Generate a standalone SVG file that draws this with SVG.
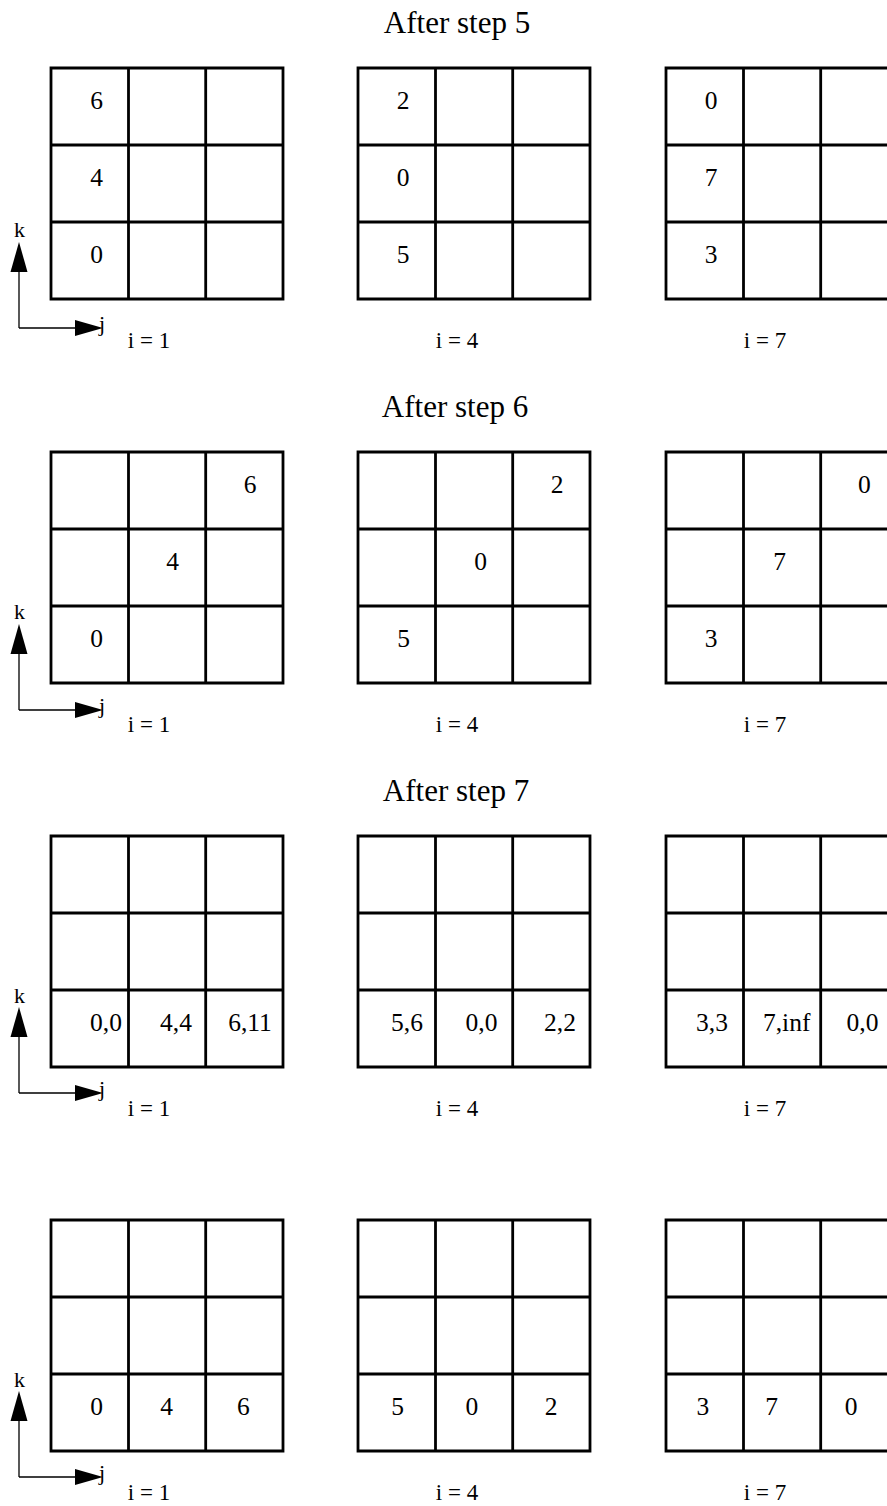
<svg xmlns="http://www.w3.org/2000/svg" xmlns:xlink="http://www.w3.org/1999/xlink" width="887" height="1506" viewBox="0 0 887 1506">
<style>
  text { font-family: "Liberation Serif", "Times New Roman", serif; fill: #000; }
  .title { font-size: 31px; text-anchor: middle; }
  .cell { font-size: 25.5px; text-anchor: middle; }
  .lbl { font-size: 23px; text-anchor: middle; }
  .axis { font-size: 22px; }
  .grid { fill: #fff; stroke: #000; stroke-width: 2.8; }
  .ax { fill: none; stroke: #000; stroke-width: 1.3; }
  .head { fill: #000; stroke: none; }
</style>
<defs>
  <path id="g3" d="M0,0 H232 V231 H0 Z M77.5,0 V231 M154.7,0 V231 M0,77 H232 M0,154 H232"/>
  <g id="axes">
    <path class="ax" d="M19,0 V-56 M19,0 H76"/>
    <polygon class="head" points="19,-86 10.5,-56 27.5,-56"/>
    <polygon class="head" points="75,-8 75,8 103,0"/>
  </g>
</defs>
<rect width="887" height="1506" fill="#fff"/>

<!-- Section 1 -->
<g id="section1">
  <text class="title" x="457" y="33">After step 5</text>
  <g id="s1-axes"><use xlink:href="#axes" href="#axes" x="0" y="328"/>
    <text class="axis" x="19.5" y="237" text-anchor="middle">k</text>
    <text class="axis" x="99" y="331">j</text></g>
  <g id="s1-i1"><use class="grid" xlink:href="#g3" href="#g3" x="51" y="68"/>
    <text class="cell" x="96.7" y="108.5">6</text><text class="cell" x="96.7" y="185.5">4</text><text class="cell" x="96.7" y="262.5">0</text>
    <text class="lbl" x="149" y="348">i = 1</text></g>
  <g id="s1-i4"><use class="grid" xlink:href="#g3" href="#g3" x="358" y="68"/>
    <text class="cell" x="403" y="108.5">2</text><text class="cell" x="403" y="185.5">0</text><text class="cell" x="403" y="262.5">5</text>
    <text class="lbl" x="457" y="348">i = 4</text></g>
  <g id="s1-i7"><use class="grid" xlink:href="#g3" href="#g3" x="666" y="68"/>
    <text class="cell" x="711" y="108.5">0</text><text class="cell" x="711" y="185.5">7</text><text class="cell" x="711" y="262.5">3</text>
    <text class="lbl" x="765" y="348">i = 7</text></g>
</g>

<!-- Section 2 -->
<g id="section2">
  <text class="title" x="455" y="417">After step 6</text>
  <g id="s2-axes"><use xlink:href="#axes" href="#axes" x="0" y="710"/>
    <text class="axis" x="19.5" y="619" text-anchor="middle">k</text>
    <text class="axis" x="99" y="713">j</text></g>
  <g id="s2-i1"><use class="grid" xlink:href="#g3" href="#g3" x="51" y="452"/>
    <text class="cell" x="250" y="492.5">6</text><text class="cell" x="172.7" y="569.5">4</text><text class="cell" x="96.7" y="646.5">0</text>
    <text class="lbl" x="149" y="732">i = 1</text></g>
  <g id="s2-i4"><use class="grid" xlink:href="#g3" href="#g3" x="358" y="452"/>
    <text class="cell" x="557" y="492.5">2</text><text class="cell" x="480.6" y="569.5">0</text><text class="cell" x="403.5" y="646.5">5</text>
    <text class="lbl" x="457" y="732">i = 4</text></g>
  <g id="s2-i7"><use class="grid" xlink:href="#g3" href="#g3" x="666" y="452"/>
    <text class="cell" x="864.4" y="492.5">0</text><text class="cell" x="779.6" y="569.5">7</text><text class="cell" x="711" y="646.5">3</text>
    <text class="lbl" x="765" y="732">i = 7</text></g>
</g>

<!-- Section 3 -->
<g id="section3">
  <text class="title" x="456" y="801">After step 7</text>
  <g id="s3-axes"><use xlink:href="#axes" href="#axes" x="0" y="1093"/>
    <text class="axis" x="19.5" y="1003" text-anchor="middle">k</text>
    <text class="axis" x="99" y="1096">j</text></g>
  <g id="s3-i1"><use class="grid" xlink:href="#g3" href="#g3" x="51" y="836"/>
    <text class="cell" x="106" y="1030.5">0,0</text><text class="cell" x="176" y="1030.5">4,4</text><text class="cell" x="250" y="1030.5">6,11</text>
    <text class="lbl" x="149" y="1116">i = 1</text></g>
  <g id="s3-i4"><use class="grid" xlink:href="#g3" href="#g3" x="358" y="836"/>
    <text class="cell" x="407" y="1030.5">5,6</text><text class="cell" x="481.5" y="1030.5">0,0</text><text class="cell" x="560" y="1030.5">2,2</text>
    <text class="lbl" x="457" y="1116">i = 4</text></g>
  <g id="s3-i7"><use class="grid" xlink:href="#g3" href="#g3" x="666" y="836"/>
    <text class="cell" x="712" y="1030.5">3,3</text><text class="cell" x="786.7" y="1030.5">7,inf</text><text class="cell" x="862.5" y="1030.5">0,0</text>
    <text class="lbl" x="765" y="1116">i = 7</text></g>
</g>

<!-- Section 4 -->
<g id="section4">
  <g id="s4-axes"><use xlink:href="#axes" href="#axes" x="0" y="1477"/>
    <text class="axis" x="19.5" y="1387" text-anchor="middle">k</text>
    <text class="axis" x="99" y="1480">j</text></g>
  <g id="s4-i1"><use class="grid" xlink:href="#g3" href="#g3" x="51" y="1220"/>
    <text class="cell" x="96.7" y="1414.5">0</text><text class="cell" x="166.7" y="1414.5">4</text><text class="cell" x="243.3" y="1414.5">6</text>
    <text class="lbl" x="149" y="1500">i = 1</text></g>
  <g id="s4-i4"><use class="grid" xlink:href="#g3" href="#g3" x="358" y="1220"/>
    <text class="cell" x="397.6" y="1414.5">5</text><text class="cell" x="471.9" y="1414.5">0</text><text class="cell" x="551" y="1414.5">2</text>
    <text class="lbl" x="457" y="1500">i = 4</text></g>
  <g id="s4-i7"><use class="grid" xlink:href="#g3" href="#g3" x="666" y="1220"/>
    <text class="cell" x="702.9" y="1414.5">3</text><text class="cell" x="771.6" y="1414.5">7</text><text class="cell" x="851.2" y="1414.5">0</text>
    <text class="lbl" x="765" y="1500">i = 7</text></g>
</g>
</svg>
